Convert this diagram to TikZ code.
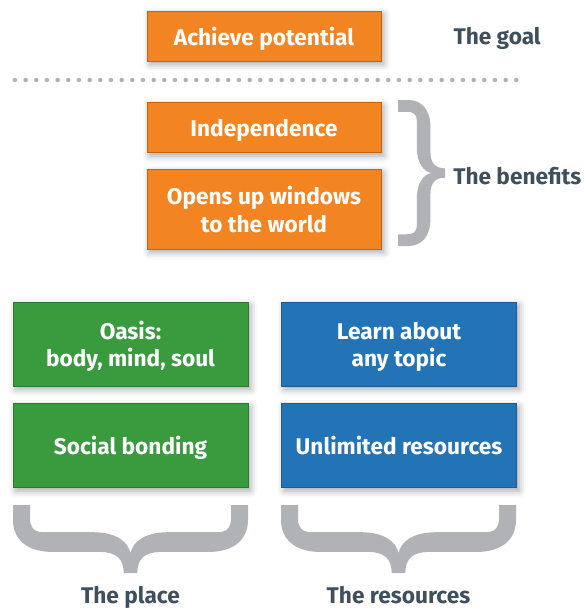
\documentclass[tikz,border=0pt]{standalone}
\usepackage{fontspec}
\setmainfont{Fira Sans}
\usepackage{tikz}
\usetikzlibrary{positioning,shadows.blur}
\usepackage{xcolor}
\definecolor{orangefill}{HTML}{F28522}
\definecolor{orangeline}{HTML}{C0640F}
\definecolor{greenfill}{HTML}{3A9A3E}
\definecolor{greenline}{HTML}{2B7A2E}
\definecolor{bluefill}{HTML}{2374B6}
\definecolor{blueline}{HTML}{1B5A92}
\definecolor{slate}{HTML}{3F505C}
\definecolor{bracegray}{HTML}{B1B2B6}
\tikzset{
  boxshadow/.style={blur shadow={shadow xshift=2pt,shadow yshift=-2.5pt,
    shadow blur radius=5pt,shadow opacity=35}},
  benefit/.style={draw=orangeline,fill=orangefill,boxshadow,align=center,inner sep=0pt,
    minimum width=175.5pt,minimum height=37.5pt,text=white,text depth=0pt,
    font=\fontsize{17}{21}\selectfont\bfseries},
  place/.style={draw=greenline,fill=greenfill,boxshadow,align=center,inner sep=0pt,
    minimum width=176.25pt,minimum height=63pt,text=white,text depth=0pt,
    font=\fontsize{17}{20.25}\selectfont\bfseries},
  resource/.style={place,draw=blueline,fill=bluefill},
  caption/.style={inner sep=0pt,text=slate,text depth=0pt,
    font=\fontsize{17}{20}\selectfont\bfseries},
  separator/.style={draw=bracegray,line width=3.4pt,line cap=round,
    dash pattern=on 0pt off 8pt},
  curlyfill/.style={fill=bracegray}
}
% curly brace of depth 1, pointing down; #1 = length / depth
\newcommand{\curly}[1]{%
  \fill[curlyfill] (0,0) -- (0.25,0) -- (0.25,0.2)
    .. controls (0.25,0.31) and (0.29,0.40) .. (0.45,0.40)
    -- ({#1/2-0.55},0.40) .. controls ({#1/2-0.2},0.40) and ({#1/2-0.03},0.55) .. ({#1/2},0.71)
    .. controls ({#1/2+0.03},0.55) and ({#1/2+0.2},0.40) .. ({#1/2+0.55},0.40)
    -- ({#1-0.45},0.40) .. controls ({#1-0.29},0.40) and ({#1-0.25},0.31) .. ({#1-0.25},0.2)
    -- ({#1-0.25},0) -- (#1,0) -- (#1,0.22)
    .. controls (#1,0.5) and ({#1-0.2},0.69) .. ({#1-0.58},0.69)
    -- ({#1/2+0.45},0.69) .. controls ({#1/2+0.2},0.69) and ({#1/2+0.1},0.8) .. ({#1/2+0.1},1)
    -- ({#1/2-0.1},1) .. controls ({#1/2-0.1},0.8) and ({#1/2-0.2},0.69) .. ({#1/2-0.45},0.69)
    -- (0.58,0.69) .. controls (0.2,0.69) and (0,0.5) .. (0,0.22) -- cycle;
}

\begin{document}
\begin{tikzpicture}[x=0.75pt,y=-0.75pt,node distance=12pt and 24.75pt]
  \useasboundingbox (0,0) rectangle (583,610);
  % goal
  \node[benefit] (goal) at (264,36) {Achieve potential};
  \node[caption,right=54pt of goal] (goaltxt) {The goal};
  \draw[separator] (15,80) -- (518,80);
  % benefits
  \node[benefit,below=30.75pt of goal] (indep) {Independence};
  \node[benefit,below=of indep,minimum height=60pt] (windows) {Opens up windows\\to the world};
  \begin{scope}[shift={(398,246)},rotate=90,scale=47]
    \curly{3.106}
  \end{scope}
  \node[caption,anchor=west] (bentxt) at (453,176) {The benefits};
  % place and resources
  \node[place] (oasis) at (130.5,344) {Oasis:\\body, mind, soul};
  \node[place,below=12.75pt of oasis] (social) {Social bonding};
  \node[resource,right=of oasis] (learn) {Learn about\\any topic};
  \node[resource,below=12.75pt of learn] (unlim) {Unlimited resources};
  \begin{scope}[shift={(13,505)},scale=68]
    \curly{3.456}
  \end{scope}
  \begin{scope}[shift={(281,505)},scale=68]
    \curly{3.456}
  \end{scope}
  \node[caption] (placetxt) at (130.5,595) {The place};
  \node[caption] (restxt) at (398.5,595) {The resources};
\end{tikzpicture}
\end{document}
